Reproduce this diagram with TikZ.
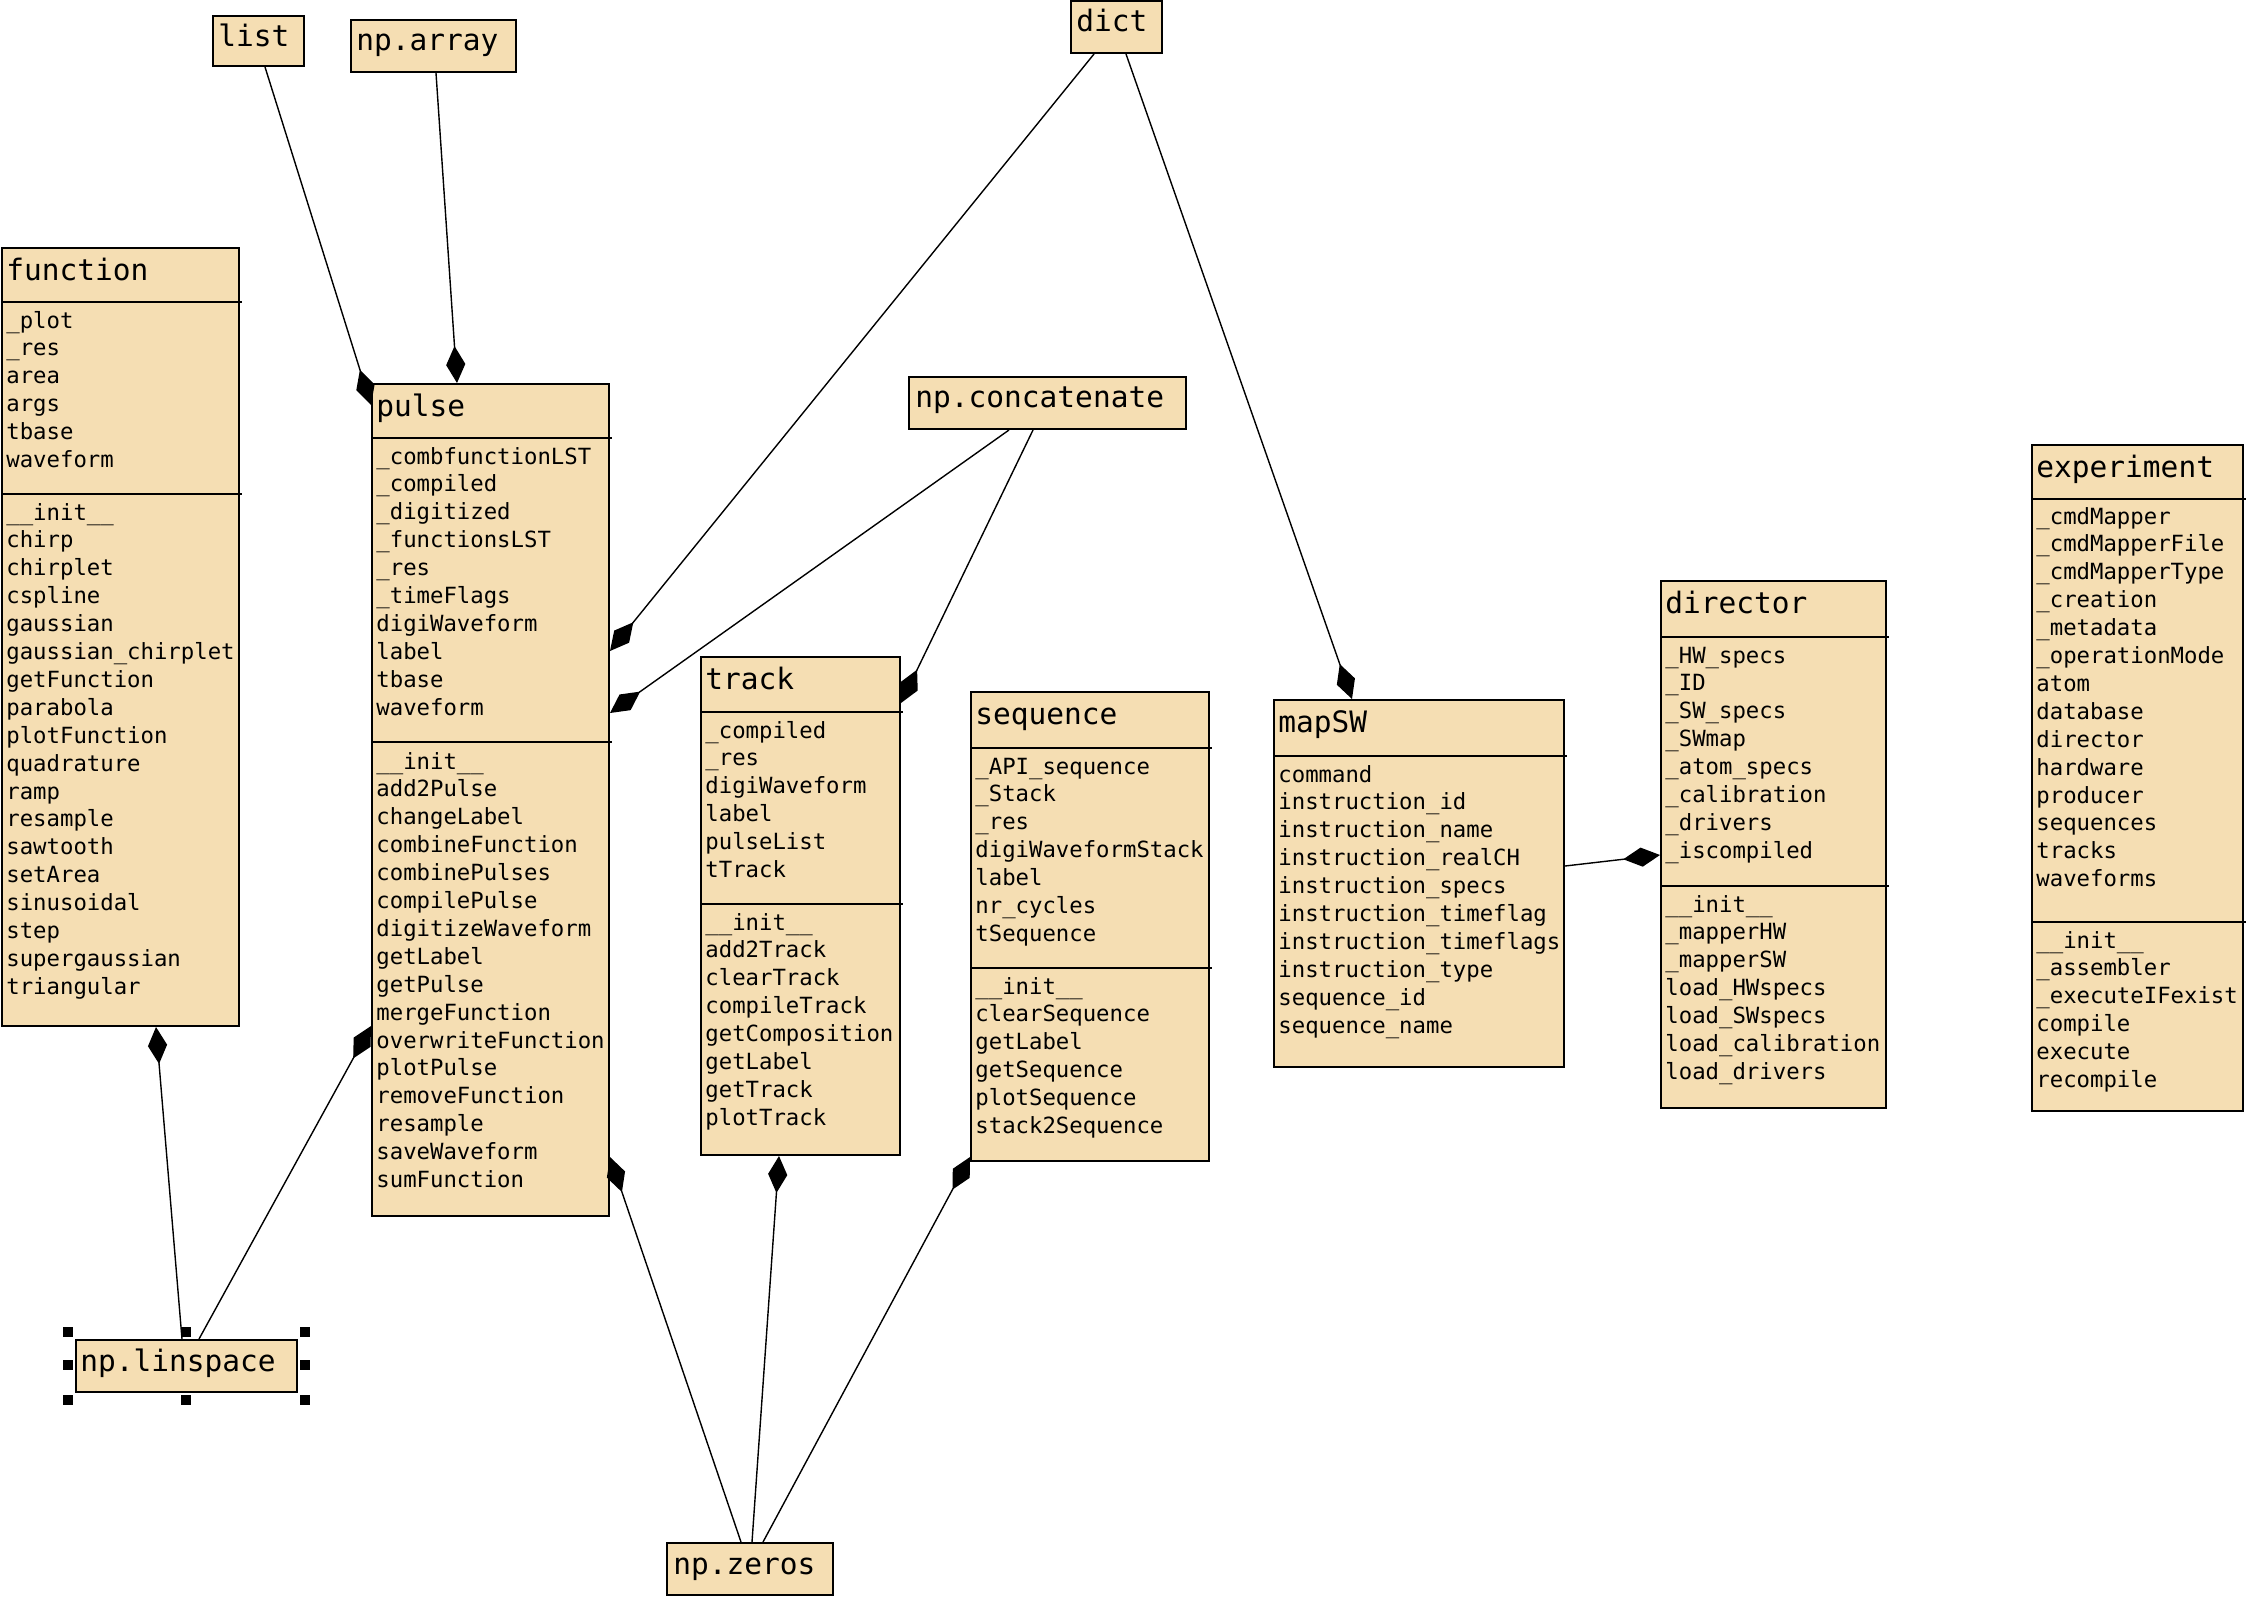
\documentclass[tikz,border=0pt]{standalone}
\usepackage{fontspec}
\newfontfamily\umlfont{DejaVu Sans Mono}
\usetikzlibrary{arrows.meta,calc,fit}
\definecolor{wheat}{RGB}{245,222,179}
\newcommand\memberlist[1]{\begin{tabular}[t]{@{}l@{}}#1\end{tabular}}

\begin{document}
\begin{tikzpicture}
    [x=0.5pt, y=-0.5pt,
    umlbox/.style = {draw, line width=1pt, fill=wheat, inner sep=0pt},
    classname/.style = {anchor=base west, inner sep=0pt,
                        font=\umlfont\fontsize{14.75pt}{18pt}\selectfont},
    members/.style = {anchor=base west, inner sep=0pt,
                      font=\umlfont\fontsize{11.15pt}{13.95pt}\selectfont},
    sepline/.style = {line width=1pt},
    owns/.style = {line width=0.7pt, -{Diamond[length=18.5pt, width=9.6pt]}}]
    \useasboundingbox (0,0) rectangle (2246,1596);
    % classes
    \node[umlbox, fit={(2,248) (239,1026)}] (function) {};
    \node[classname] (function-name) at (6,280) {function};
    \draw[sepline] (2,302) -- (242,302);
    \node[members] (function-attrs) at (6,328) {\memberlist{\_plot\\\_res\\area\\args\\tbase\\waveform}};
    \draw[sepline] (2,494) -- (242,494);
    \node[members] (function-ops) at (6,520) {\memberlist{\_\_init\_\_\\chirp\\chirplet\\cspline\\gaussian\\gaussian\_chirplet\\getFunction\\parabola\\plotFunction\\quadrature\\ramp\\resample\\sawtooth\\setArea\\sinusoidal\\step\\supergaussian\\triangular}};

    \node[umlbox, fit={(372,384) (609,1216)}] (pulse) {};
    \node[classname] (pulse-name) at (376,416) {pulse};
    \draw[sepline] (372,438) -- (612,438);
    \node[members] (pulse-attrs) at (376,464) {\memberlist{\_combfunctionLST\\\_compiled\\\_digitized\\\_functionsLST\\\_res\\\_timeFlags\\digiWaveform\\label\\tbase\\waveform}};
    \draw[sepline] (372,742) -- (612,742);
    \node[members] (pulse-ops) at (376,769) {\memberlist{\_\_init\_\_\\add2Pulse\\changeLabel\\combineFunction\\combinePulses\\compilePulse\\digitizeWaveform\\getLabel\\getPulse\\mergeFunction\\overwriteFunction\\plotPulse\\removeFunction\\resample\\saveWaveform\\sumFunction}};

    \node[umlbox, fit={(701,657) (900,1155)}] (track) {};
    \node[classname] (track-name) at (705,689) {track};
    \draw[sepline] (701,712) -- (903,712);
    \node[members] (track-attrs) at (705,738) {\memberlist{\_compiled\\\_res\\digiWaveform\\label\\pulseList\\tTrack}};
    \draw[sepline] (701,904) -- (903,904);
    \node[members] (track-ops) at (705,930) {\memberlist{\_\_init\_\_\\add2Track\\clearTrack\\compileTrack\\getComposition\\getLabel\\getTrack\\plotTrack}};

    \node[umlbox, fit={(971,692) (1209,1161)}] (sequence) {};
    \node[classname] (sequence-name) at (975,724) {sequence};
    \draw[sepline] (971,748) -- (1212,748);
    \node[members] (sequence-attrs) at (975,774) {\memberlist{\_API\_sequence\\\_Stack\\\_res\\digiWaveformStack\\label\\nr\_cycles\\tSequence}};
    \draw[sepline] (971,968) -- (1212,968);
    \node[members] (sequence-ops) at (975,994) {\memberlist{\_\_init\_\_\\clearSequence\\getLabel\\getSequence\\plotSequence\\stack2Sequence}};

    \node[umlbox, fit={(1274,700) (1564,1067)}] (mapSW) {};
    \node[classname] (mapSW-name) at (1278,732) {mapSW};
    \draw[sepline] (1274,756) -- (1567,756);
    \node[members] (mapSW-attrs) at (1278,782) {\memberlist{command\\instruction\_id\\instruction\_name\\instruction\_realCH\\instruction\_specs\\instruction\_timeflag\\instruction\_timeflags\\instruction\_type\\sequence\_id\\sequence\_name}};

    \node[umlbox, fit={(1661,581) (1886,1108)}] (director) {};
    \node[classname] (director-name) at (1665,613) {director};
    \draw[sepline] (1661,637) -- (1889,637);
    \node[members] (director-attrs) at (1665,663) {\memberlist{\_HW\_specs\\\_ID\\\_SW\_specs\\\_SWmap\\\_atom\_specs\\\_calibration\\\_drivers\\\_iscompiled}};
    \draw[sepline] (1661,886) -- (1889,886);
    \node[members] (director-ops) at (1665,912) {\memberlist{\_\_init\_\_\\\_mapperHW\\\_mapperSW\\load\_HWspecs\\load\_SWspecs\\load\_calibration\\load\_drivers}};

    \node[umlbox, fit={(2032,445) (2243,1111)}] (experiment) {};
    \node[classname] (experiment-name) at (2036,477) {experiment};
    \draw[sepline] (2032,499) -- (2246,499);
    \node[members] (experiment-attrs) at (2036,524) {\memberlist{\_cmdMapper\\\_cmdMapperFile\\\_cmdMapperType\\\_creation\\\_metadata\\\_operationMode\\atom\\database\\director\\hardware\\producer\\sequences\\tracks\\waveforms}};
    \draw[sepline] (2032,922) -- (2246,922);
    \node[members] (experiment-ops) at (2036,948) {\memberlist{\_\_init\_\_\\\_assembler\\\_executeIFexist\\compile\\execute\\recompile}};

    % library boxes
    \node[umlbox, fit={(213,16) (304,66)}] (list) {};
    \node[classname] (list-name) at (218,46) {list};
    \node[umlbox, fit={(351,20) (516,72)}] (nparray) {};
    \node[classname] (nparray-name) at (356,50) {np.array};
    \node[umlbox, fit={(1071,1) (1162,53)}] (dict) {};
    \node[classname] (dict-name) at (1076,31) {dict};
    \node[umlbox, fit={(909,377) (1186,429)}] (concat) {};
    \node[classname] (concat-name) at (915,407) {np.concatenate};
    \node[umlbox, fit={(76,1340) (297,1392)}] (linspace) {};
    \node[classname] (linspace-name) at (80,1371) {np.linspace};
    \node[umlbox, fit={(667,1543) (833,1595)}] (zeros) {};
    \node[classname] (zeros-name) at (673,1574) {np.zeros};

    % selection handles
    \foreach \hx/\hy in {68/1332,186/1332,305/1332,68/1365,305/1365,68/1400,186/1400,305/1400}
        \fill (\hx-5,\hy-5) rectangle (\hx+5,\hy+5);

    % compositions
    \draw[owns] ($(list.south west)+(53,0)$) -- ($(pulse.north west)+(0,22)$);
    \draw[owns] ($(nparray.south west)+(86,0)$) -- ($(pulse.north west)+(86,0)$);
    \draw[owns] ($(dict.south west)+(24,0)$) -- ($(pulse.north east)+(0,268)$);
    \draw[owns] ($(concat.south west)+(101,0)$) -- ($(pulse.north east)+(0,330)$);
    \draw[owns] ($(concat.south west)+(125,0)$) -- ($(track.north east)+(0,47)$);
    \draw[owns] ($(dict.south west)+(56,0)$) -- ($(mapSW.north west)+(79,0)$);
    \draw[owns] ($(mapSW.north east)+(0,167)$) -- ($(director.north west)+(0,275)$);
    \draw[owns] ($(linspace.north west)+(107,0)$) -- ($(function.south west)+(155,0)$);
    \draw[owns] ($(linspace.north west)+(124,0)$) -- ($(pulse.south west)+(0,-191)$);
    \draw[owns] ($(zeros.north west)+(75,0)$) -- ($(pulse.south east)+(0,-60)$);
    \draw[owns] ($(zeros.north west)+(86,0)$) -- ($(track.south west)+(79,0)$);
    \draw[owns] ($(zeros.north west)+(97,0)$) -- ($(sequence.south west)+(0,-5)$);
\end{tikzpicture}
\end{document}
